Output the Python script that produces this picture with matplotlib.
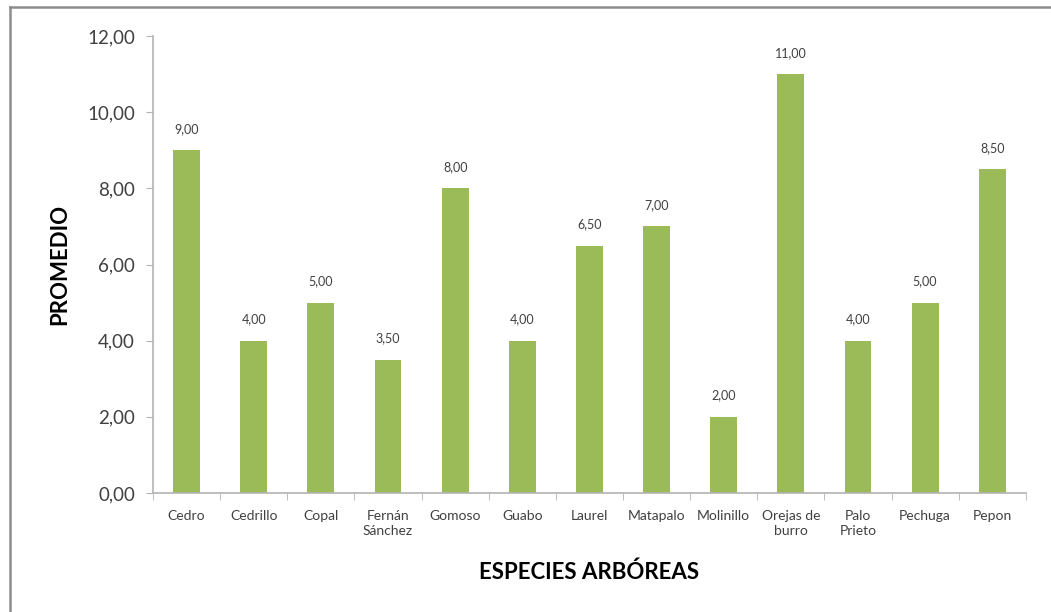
import matplotlib
matplotlib.use("Agg")
import matplotlib.pyplot as plt
from matplotlib.lines import Line2D
from matplotlib.ticker import FixedLocator

species = ["Cedro", "Cedrillo", "Copal", "Fernán\nSánchez", "Gomoso", "Guabo",
           "Laurel", "Matapalo", "Molinillo", "Orejas de\nburro", "Palo\nPrieto",
           "Pechuga", "Pepon"]
promedio = [9.0, 4.0, 5.0, 3.5, 8.0, 4.0, 6.5, 7.0, 2.0, 11.0, 4.0, 5.0, 8.5]
yticks = [0, 2, 4, 6, 8, 10, 12]

GREEN = "#9BBB59"
AXIS = "#B3B3B3"
TEXT = "#404040"

plt.rcParams["font.family"] = ["Lato", "DejaVu Sans"]

fig = plt.figure(figsize=(10.51, 6.12), dpi=100)
ax = fig.add_axes([0.1456, 0.1944, 0.8304, 0.7466])

x = list(range(len(species)))
bars = ax.bar(x, promedio, width=0.4, color=GREEN, zorder=2)

for xi, v in zip(x, promedio):
    ax.annotate(f"{v:.2f}".replace(".", ","), (xi, v), xytext=(0, 11),
                textcoords="offset points", ha="center", va="bottom",
                fontsize=9, color=TEXT)

ax.set_xlim(-0.5, len(species) - 0.5)
ax.set_ylim(0, 12)
ax.set_yticks(yticks)
ax.set_yticklabels([f"{t:.2f}".replace(".", ",") for t in yticks],
                   fontsize=13.5, color=TEXT)
ax.tick_params(axis="y", length=5, color=AXIS, pad=8)

ax.set_xticks(x)
ax.set_xticklabels(species, fontsize=10, color=TEXT, linespacing=1.3)
ax.tick_params(axis="x", which="major", length=0, pad=12)
ax.xaxis.set_minor_locator(FixedLocator([i - 0.5 for i in range(len(species) + 1)]))
ax.tick_params(axis="x", which="minor", length=5, color=AXIS)

for s in ("top", "right"):
    ax.spines[s].set_visible(False)
for s in ("left", "bottom"):
    ax.spines[s].set_color(AXIS)
    ax.spines[s].set_linewidth(1.2)

ax.set_ylabel("PROMEDIO", fontsize=16, fontweight="bold", color="black", labelpad=12)
ax.set_xlabel("ESPECIES ARBÓREAS", fontsize=16, fontweight="bold", color="black", labelpad=18)

# chart frame (top and left edges visible)
fig.add_artist(Line2D([10 / 1051, 1.0], [1 - 7 / 612, 1 - 7 / 612],
                      transform=fig.transFigure, color="#8C8C8C", lw=1.8))
fig.add_artist(Line2D([10 / 1051, 10 / 1051], [0.0, 1 - 7 / 612],
                      transform=fig.transFigure, color="#8C8C8C", lw=1.8))

fig.savefig("out.png", dpi=100, facecolor="white")
